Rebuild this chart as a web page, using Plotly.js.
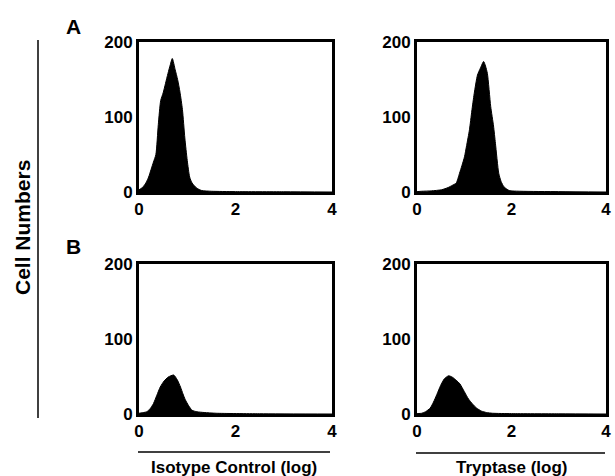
<!DOCTYPE html>
<html>
<head>
<meta charset="utf-8">
<script src="https://cdn.plot.ly/plotly-3.0.1.min.js"></script>
<style>html,body{margin:0;padding:0;background:#fff;}#chart{width:615px;height:476px;}</style>
</head>
<body>
<div id="chart"></div>
<script>
// Panel A, isotype control: log fluorescence vs cell numbers
var aIsoX = [0.00,0.05,0.10,0.15,0.20,0.25,0.30,0.35,0.40,0.45,0.50,0.55,0.60,0.65,0.69,0.75,0.80,0.85,0.90,0.95,1.00,1.05,1.10,1.20,1.30,1.50,2.00,3.00,4.00];
var aIsoY = [3,5,8,13,20,30,40,50,90,122,132,145,158,170,178,163,150,133,110,72,42,20,12,5,2,1,0.5,0.3,0];
// Panel A, tryptase
var aTrpX = [0.00,0.10,0.30,0.52,0.66,0.75,0.83,0.90,0.95,1.005,1.05,1.11,1.16,1.21,1.28,1.34,1.41,1.45,1.49,1.56,1.62,1.66,1.73,1.78,1.84,1.95,2.20,3.00,4.00];
var aTrpY = [0.5,1,1.5,3,6,9,12,25,35,47,62,83,108,131,156,165,174,168,158,114,88,65,25,14,7,2,1,0.5,0];
// Panel B, isotype control
var bIsoX = [0.00,0.10,0.16,0.23,0.30,0.37,0.44,0.52,0.60,0.66,0.72,0.79,0.86,0.91,0.96,1.03,1.10,1.20,1.35,1.60,2.50,4.00];
var bIsoY = [1,2,3,7,14,25,36,44,49,51,52,46,36,27,19,11,5,3,2,1,0.3,0];
// Panel B, tryptase
var bTrpX = [0.00,0.10,0.18,0.28,0.35,0.42,0.50,0.58,0.67,0.75,0.83,0.91,1.00,1.09,1.18,1.26,1.36,1.47,1.60,2.00,3.00,4.00];
var bTrpY = [0.5,1,3,8,16,26,38,47,51,49,45,40,30,20,13,8,4,2,1,0.5,0.2,0];

var xTicks = [0,2,4];
var yTicks = [0,100,200];
var panelLabels = ['A','B'];
var xTitles = ['Isotype Control (log)','Tryptase (log)'];
var yTitle = 'Cell Numbers';

var FONT = 'Liberation Sans, Arial, Helvetica, sans-serif';

function tr(x, y, xa, ya){
  return {x:x, y:y, xaxis:xa, yaxis:ya, type:'scatter', mode:'lines',
    line:{color:'#000', width:1, shape:'spline', smoothing:0.6}, fill:'tozeroy', fillcolor:'#000',
    hoverinfo:'skip', showlegend:false};
}
var data = [
  tr(aIsoX, aIsoY, 'x', 'y'),
  tr(aTrpX, aTrpY, 'x2', 'y2'),
  tr(bIsoX, bIsoY, 'x3', 'y3'),
  tr(bTrpX, bTrpY, 'x4', 'y4')
];

var tickFont = {family:FONT, size:17, color:'#000', weight:'bold'};
function xax(dom, anchor){
  return {domain:dom, anchor:anchor, range:[0,4], tickvals:xTicks, ticks:'', showgrid:false, zeroline:false,
    showline:true, mirror:true, linecolor:'#000', linewidth:3, fixedrange:true,
    ticklabeloverflow:'allow', tickfont:tickFont};
}
function yax(dom, anchor){
  return {domain:dom, anchor:anchor, range:[0,200], tickvals:yTicks, ticks:'', showgrid:false, zeroline:false,
    showline:true, mirror:true, linecolor:'#000', linewidth:3, fixedrange:true,
    ticklabeloverflow:'allow', tickfont:tickFont};
}
var W = 615, H = 476;
function px(v){ return v/W; }
function py(v){ return 1 - v/H; }

var xL = [px(139), px(332)], xR = [px(417), px(606)];
var yA = [py(192), py(42)], yB = [py(414), py(264)];

var layout = {
  width:W, height:H, margin:{l:0,r:0,t:0,b:0}, paper_bgcolor:'#fff', plot_bgcolor:'#fff',
  showlegend:false,
  xaxis: xax(xL,'y'), yaxis: yax(yA,'x'),
  xaxis2: xax(xR,'y2'), yaxis2: yax(yA,'x2'),
  xaxis3: xax(xL,'y3'), yaxis3: yax(yB,'x3'),
  xaxis4: xax(xR,'y4'), yaxis4: yax(yB,'x4'),
  annotations:[
    {text:panelLabels[0], xref:'paper', yref:'paper', x:px(73), y:py(26), showarrow:false, xanchor:'center', yanchor:'middle', font:{family:FONT, size:21, color:'#000', weight:'bold'}},
    {text:panelLabels[1], xref:'paper', yref:'paper', x:px(73), y:py(246), showarrow:false, xanchor:'center', yanchor:'middle', font:{family:FONT, size:21, color:'#000', weight:'bold'}},
    {text:yTitle, xref:'paper', yref:'paper', x:px(22), y:py(228), textangle:-90, showarrow:false, xanchor:'center', yanchor:'middle', font:{family:FONT, size:21, color:'#000', weight:'bold'}},
    {text:xTitles[0], xref:'paper', yref:'paper', x:px(234), y:py(467), showarrow:false, xanchor:'center', yanchor:'middle', font:{family:FONT, size:17, color:'#000', weight:'bold'}},
    {text:xTitles[1], xref:'paper', yref:'paper', x:px(511), y:py(467), showarrow:false, xanchor:'center', yanchor:'middle', font:{family:FONT, size:17, color:'#000', weight:'bold'}}
  ],
  shapes:[
    {type:'line', xref:'paper', yref:'paper', x0:px(38), x1:px(38), y0:py(40), y1:py(418), line:{color:'#000', width:1.5}},
    {type:'line', xref:'paper', yref:'paper', x0:px(138), x1:px(330), y0:py(452), y1:py(452), line:{color:'#000', width:1.5}},
    {type:'line', xref:'paper', yref:'paper', x0:px(416), x1:px(605), y0:py(453), y1:py(453), line:{color:'#000', width:1.5}}
  ]
};
Plotly.newPlot('chart', data, layout, {staticPlot:true, displayModeBar:false});
</script>
</body>
</html>
